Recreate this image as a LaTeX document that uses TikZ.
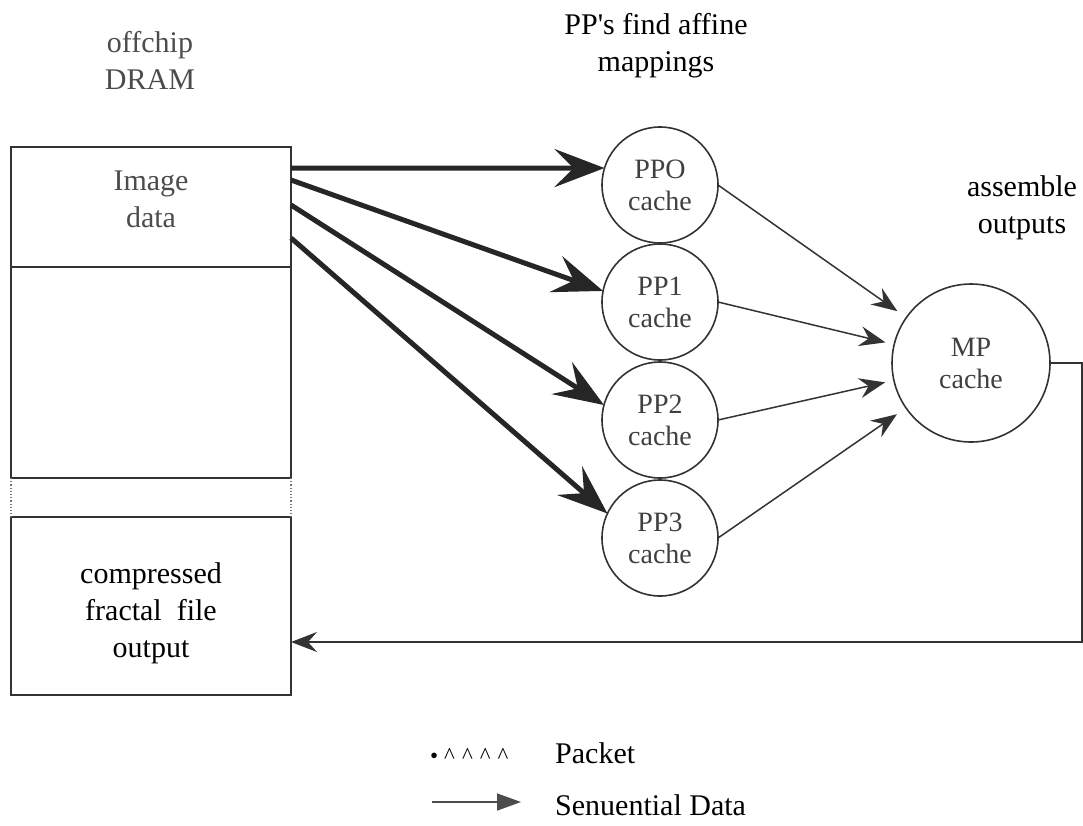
\documentclass[tikz,border=0pt]{standalone}
\usepackage{fontspec}
\setmainfont{Liberation Serif}
\usetikzlibrary{arrows.meta,calc}
\begin{document}
\begin{tikzpicture}[x=1pt,y=-1pt,
  box/.style={draw=black!80, line width=1.8pt, minimum width=280pt, inner sep=0pt, outer sep=0pt},
  cache/.style={circle, draw=black!80, line width=1.6pt, minimum size=116pt, inner sep=0pt, outer sep=0pt,
    align=center, text=black!75, font=\fontsize{28}{32}\selectfont},
  lbl/.style={align=center, font=\fontsize{30}{37}\selectfont},
  graylbl/.style={lbl, text=black!70},
  bulk/.style={line width=5pt, draw=black!85, -{Stealth[length=50pt,width=38pt,inset=19pt]}},
  seq/.style={line width=1.5pt, draw=black!80, -{Stealth[length=26pt,width=20pt,inset=9pt]}},
  dots/.style={draw=black!55, line width=1.2pt, dotted},
]
\useasboundingbox (0,0) rectangle (1083,825);

% headings
\node[graylbl] (dramlbl) at (150,60) {offchip\\DRAM};
\node[lbl] (pplbl) at (656,46) {PP\textquotesingle s find affine\\mappings};
\node[lbl] (mplbl) at (1022,208) {assemble\\outputs};

% off-chip memory column
\node[box, minimum height=120pt] (img) at (151,207) {};
\node[graylbl] (imgtxt) at (151,199) {Image\\data};
\node[box, minimum height=211pt] (mid) at (151,372.5) {};
\node[box, minimum height=178pt] (out) at (151,606) {};
\node[lbl] (outtxt) at (151,613) {compressed\\fractal\ \ file\\output};
\draw[dots] (mid.south west) -- (out.north west);
\draw[dots] (mid.south east) -- (out.north east);

% processor caches
\node[cache] (pp0) at (660,185) {PPO\\cache};
\node[cache] (pp1) at (660,302) {PP1\\cache};
\node[cache] (pp2) at (660,420) {PP2\\cache};
\node[cache] (pp3) at (660,538) {PP3\\cache};
\node[cache, minimum size=158pt] (mp) at (971,363) {MP\\cache};

% packet transfers from image memory
\coordinate (s0) at ($(img.north east)+(0,21)$);
\coordinate (s1) at ($(img.north east)+(0,33)$);
\coordinate (s2) at ($(img.north east)+(0,58)$);
\coordinate (s3) at ($(img.north east)+(0,91)$);
\draw[bulk] (s0) -- (pp0.163);
\draw[bulk] (s1) -- (pp1.169);
\draw[bulk] (s2) -- (pp2.165);
\draw[bulk] (s3) -- (pp3.155);

% sequential data to the master processor
\draw[seq, shorten >=11pt] (pp0.east) -- (mp);
\draw[seq, shorten >=9pt] (pp1.east) -- (mp);
\draw[seq, shorten >=9pt] (pp2.east) -- (mp);
\draw[seq, shorten >=11pt] (pp3.east) -- (mp);

% output written back to memory
\coordinate (fb) at (1082,642);
\draw[seq] (mp.east) -| (fb) -- (fb -| out.east);

% legend
\node[anchor=base west, inner sep=0pt, font=\fontsize{23}{26}\selectfont] (pkmark) at (430,763)
  {•\hspace{6pt}\textasciicircum\hspace{7pt}\textasciicircum\hspace{7pt}\textasciicircum\hspace{7pt}\textasciicircum};
\node[lbl, anchor=base west, inner sep=0pt] (pk) at (555,763) {Packet};
\coordinate (la) at (432,802);
\coordinate (lb) at (521,802);
\draw[line width=1.6pt, draw=black!70, -{Triangle[length=24pt,width=17pt]}] (la) -- (lb);
\node[lbl, anchor=base west, inner sep=0pt] (sd) at (555,815) {Senuential Data};
\end{tikzpicture}
\end{document}
